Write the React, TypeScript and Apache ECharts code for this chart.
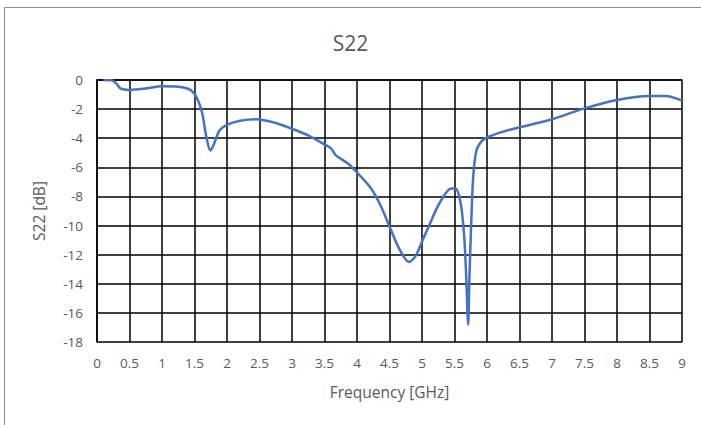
import React, { useEffect, useRef } from "react";
import * as echarts from "echarts";

const titleText = "S22";
const xName = "Frequency [GHz]";
const yName = "S22 [dB]";

const freq = [
  0.1, 0.22, 0.3, 0.36, 0.5, 0.75, 1.0, 1.25, 1.4, 1.48, 1.55, 1.62, 1.68, 1.745, 1.8, 1.88, 1.99,
  2.2, 2.45, 2.75, 3.0, 3.25, 3.45, 3.6, 3.68, 3.85, 4.0, 4.2, 4.35, 4.5, 4.65, 4.8, 4.9, 5.0,
  5.1, 5.27, 5.45, 5.53, 5.6, 5.65, 5.68, 5.71, 5.73, 5.76, 5.79, 5.84, 5.92, 6.0, 6.25, 6.5,
  7.0, 7.5, 8.0, 8.5, 8.75, 9.0,
];
const s22 = [
  0, -0.02, -0.25, -0.58, -0.68, -0.58, -0.43, -0.46, -0.6, -0.85, -1.35, -2.3, -3.85, -4.85, -4.4, -3.5, -3.1,
  -2.8, -2.7, -2.95, -3.35, -3.8, -4.3, -4.7, -5.2, -5.7, -6.35, -7.35, -8.5, -10.05, -11.6, -12.5, -12.1, -11.1,
  -10.1, -8.45, -7.45, -7.5, -8.6, -10.8, -13.5, -16.8, -13.5, -9.5, -6.5, -4.8, -4.2, -3.95, -3.55, -3.25,
  -2.7, -1.95, -1.37, -1.1, -1.1, -1.42,
];

const font = "'Open Sans', 'Noto Sans', sans-serif";

export default function App() {
  const ref = useRef<HTMLDivElement>(null);
  useEffect(() => {
    if (!ref.current) return;
    const chart = echarts.init(ref.current, null, { renderer: "svg" });
    chart.setOption({
      animation: false,
      backgroundColor: "#ffffff",
      title: {
        text: titleText,
        left: "center",
        top: 27,
        textStyle: { fontFamily: font, fontSize: 21, fontWeight: "normal", color: "#595959" },
      },
      graphic: [
        {
          type: "rect",
          shape: { x: 4.5, y: 7.5, width: 760, height: 480 },
          style: { fill: "none", stroke: "#8c8c8c", lineWidth: 1 },
          silent: true,
          z: -1,
        },
      ],
      grid: { left: 97, top: 80, width: 585, height: 262 },
      xAxis: {
        type: "value",
        min: 0,
        max: 9,
        interval: 0.5,
        name: xName,
        nameLocation: "middle",
        nameGap: 42,
        nameTextStyle: { fontFamily: font, fontSize: 15.5, color: "#595959" },
        axisLine: { show: true, lineStyle: { color: "#000", width: 1.5 } },
        axisTick: { show: false },
        axisLabel: { fontFamily: font, fontSize: 13.5, color: "#595959", margin: 14 },
        splitLine: { show: true, lineStyle: { color: "#000", width: 1.5 } },
      },
      yAxis: {
        type: "value",
        min: -18,
        max: 0,
        interval: 2,
        name: yName,
        nameLocation: "middle",
        nameGap: 50,
        nameRotate: 90,
        nameTextStyle: { fontFamily: font, fontSize: 15.5, color: "#595959" },
        axisLine: { show: true, lineStyle: { color: "#000", width: 1.5 } },
        axisTick: { show: false },
        axisLabel: { fontFamily: font, fontSize: 13.5, color: "#595959", margin: 14 },
        splitLine: { show: true, lineStyle: { color: "#000", width: 1.5 } },
      },
      series: [
        {
          type: "line",
          data: freq.map((f, i) => [f, s22[i]]),
          smooth: 0.3,
          showSymbol: false,
          lineStyle: { color: "#4472C4", width: 2.5 },
          z: 5,
        },
      ],
    });
    return () => chart.dispose();
  }, []);
  return (
    <div
      ref={ref}
      style={{ position: "fixed", left: 0, top: 0, width: 701, height: 425 }}
    />
  );
}
